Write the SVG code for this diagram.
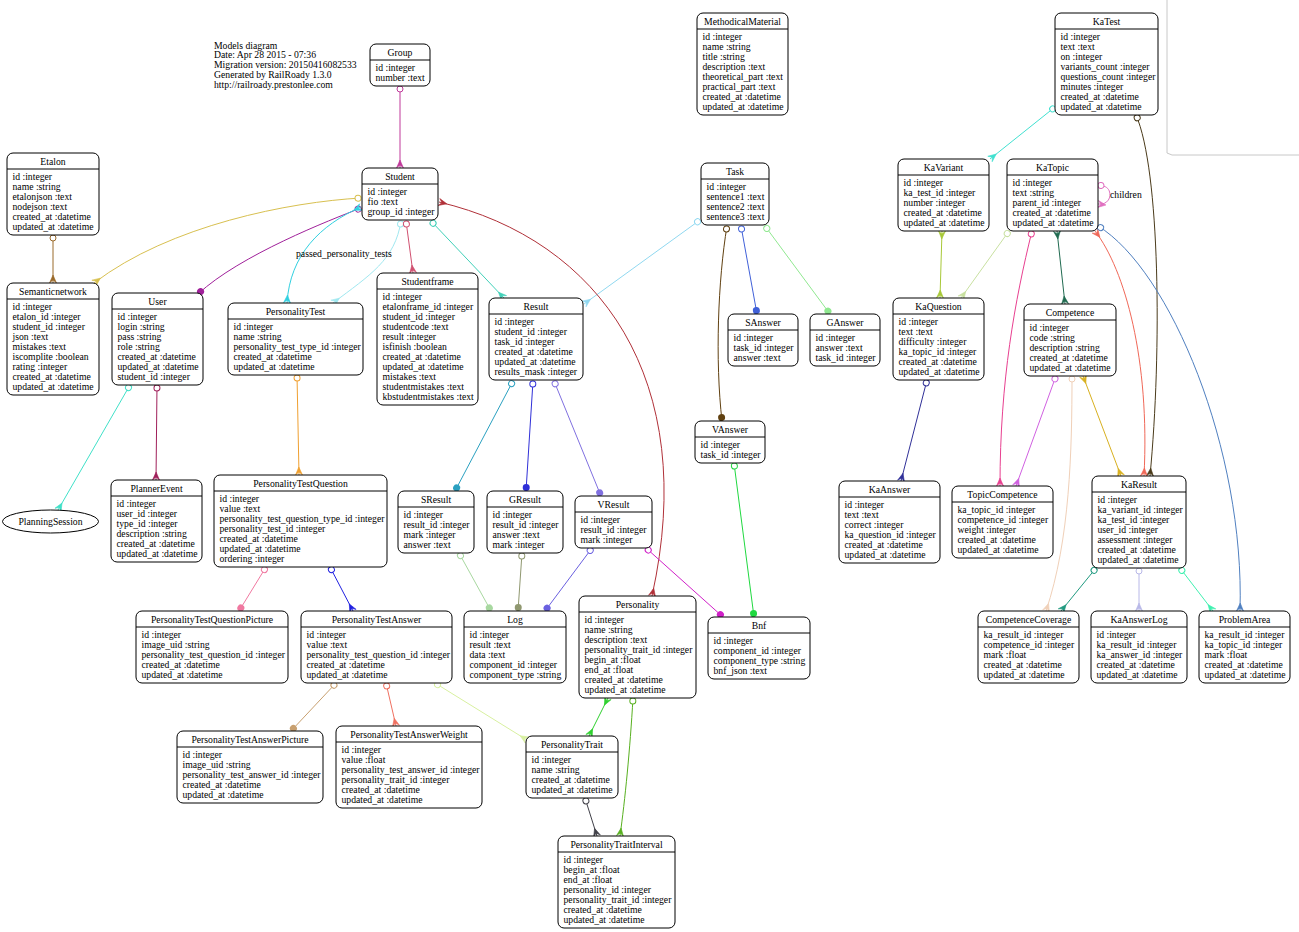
<svg xmlns="http://www.w3.org/2000/svg" width="1299" height="932" viewBox="0 0 1299 932">
<style>
text{font-family:"Liberation Serif","Times New Roman",serif;font-size:9.7px;fill:#000}
.t{text-anchor:middle}
.node rect{fill:#fff;stroke:#000;stroke-width:1}
.node line{stroke:#000;stroke-width:1}
.edges path{fill:none;stroke-width:1}
.o{marker-start:url(#odot)}
.c{marker-end:url(#crow)}
.cs{marker-start:url(#crow)}
.d{marker-end:url(#dot)}
</style>
<defs>
<marker id="odot" markerUnits="userSpaceOnUse" markerWidth="8" markerHeight="8" refX="0" refY="0" orient="auto" overflow="visible"><circle cx="3" cy="0" r="3" fill="#fff" stroke="context-stroke"/></marker>
<marker id="crow" markerUnits="userSpaceOnUse" markerWidth="10" markerHeight="10" refX="0" refY="0" orient="auto-start-reverse" overflow="visible"><polygon points="-8,0 0,-3.5 -3,0 0,3.5" fill="context-stroke" stroke="context-stroke" stroke-width="0.6"/></marker>
<marker id="dot" markerUnits="userSpaceOnUse" markerWidth="8" markerHeight="8" refX="0" refY="0" orient="auto" overflow="visible"><circle cx="-3.5" cy="0" r="3.5" fill="context-stroke"/></marker>
</defs>
<rect width="1299" height="932" fill="#fff"/>
<polyline points="1167,0 1167,153 1172,155 1299,155" fill="none" stroke="#c8c8c8"/>
<g id="header">
<text x="214" y="48.5">Models diagram</text>
<text x="214" y="58.3">Date: Apr 28 2015 - 07:36</text>
<text x="214" y="68">Migration version: 20150416082533</text>
<text x="214" y="77.8">Generated by RailRoady 1.3.0</text>
<text x="214" y="87.5">http://railroady.prestonlee.com</text>
</g>
<g class="edges" id="connectors">
<path class="o c" stroke="#c0399a" d="M400,86 L400,168"/>
<path class="o c" stroke="#d8c050" d="M361,198 C290,202 170,225 94,283"/>
<path class="o c" stroke="#9a6a2a" d="M53,235 L53,283"/>
<path class="o d" stroke="#a0209a" d="M361,208 C330,220 240,255 198,294"/>
<path class="cs c" stroke="#30d0e0" d="M361,207 C320,225 290,255 287,303"/>
<path class="o c" stroke="#a0e8f0" d="M401,221 C395,260 370,275 333,303"/>
<path class="o c" stroke="#d05070" d="M406,221 L413,273"/>
<path class="o c" stroke="#40d0b8" d="M431,221 L504,298"/>
<path class="o c" stroke="#90d8f0" d="M700,220 L584,304"/>
<path class="cs c" stroke="#b03038" d="M439,202 C600,240 700,380 652,596"/>
<path class="o d" stroke="#604010" d="M727,226 C718,280 715,360 722,421"/>
<path class="o d" stroke="#4060d8" d="M741,226 L757,314"/>
<path class="o d" stroke="#90e890" d="M765,226 L830,314"/>
<path class="o d" stroke="#2aa0c0" d="M513,381 L455,491"/>
<path class="o d" stroke="#3030d8" d="M533,381 L526,491"/>
<path class="o d" stroke="#8070e0" d="M554,381 L601,496"/>
<path class="o d" stroke="#a8d8a0" d="M459,553 L491,611"/>
<path class="o d" stroke="#909870" d="M522,553 L518,611"/>
<path class="o d" stroke="#6a60e0" d="M592,548 L545,611"/>
<path class="o d" stroke="#d020c8" d="M646,548 L723,617"/>
<path class="o d" stroke="#20d840" d="M734,463 L754,617"/>
<path class="o c" stroke="#40e0c8" d="M130,385 L58,510"/>
<path class="o c" stroke="#a0205a" d="M157,385 L156,480"/>
<path class="o c" stroke="#f0a030" d="M297,375 L299,475"/>
<path class="o d" stroke="#f078a0" d="M266,567 L239,611"/>
<path class="o c" stroke="#2020e0" d="M330,567 L353,611"/>
<path class="o d" stroke="#c8a070" d="M336,683 L291,731"/>
<path class="o c" stroke="#f07060" d="M386,683 L396,726"/>
<path class="o c" stroke="#d8f0a0" d="M435,683 L527,740"/>
<path class="cs c" stroke="#30d030" d="M608,698 L589,736"/>
<path class="o c" stroke="#58b020" d="M633,698 C630,750 625,800 620,836"/>
<path class="o c" stroke="#404048" d="M585,798 L597,836"/>
<path class="o c" stroke="#40e0d0" d="M1055,107 L990,159"/>
<path class="o c" stroke="#4a3a1a" d="M1136,115 C1160,170 1162,350 1150,476"/>
<path class="o c" stroke="#e070c0" d="M1098,186 C1114,183 1114,206 1098,204"/>
<path class="cs c" stroke="#a8c838" d="M942,231 L940,298"/>
<path class="o c" stroke="#c8e0a0" d="M1009,231 L961,298"/>
<path class="o c" stroke="#e84090" d="M1032,231 C1015,300 1000,380 1000,486"/>
<path class="cs c" stroke="#206a50" d="M1057,231 L1065,304"/>
<path class="cs c" stroke="#f06858" d="M1095,231 C1125,270 1150,360 1144,476"/>
<path class="o c" stroke="#5080c0" d="M1098,226 C1170,270 1245,450 1240,611"/>
<path class="o c" stroke="#303098" d="M927,380 L901,481"/>
<path class="o c" stroke="#d060e0" d="M1056,376 L1016,486"/>
<path class="o c" stroke="#f0d0b8" d="M1072,376 C1072,450 1070,540 1046,611"/>
<path class="cs c" stroke="#d8b020" d="M1083,376 L1121,476"/>
<path class="o c" stroke="#209a80" d="M1096,568 L1061,611"/>
<path class="o c" stroke="#b8b8e8" d="M1139,568 L1139,611"/>
<path class="o c" stroke="#40f0b0" d="M1180,568 L1213,611"/>
<text x="296" y="257">passed_personality_tests</text>
<text x="1110" y="198">children</text>
</g>
<g id="PlanningSession" class="node"><ellipse cx="50.5" cy="521.5" rx="48" ry="11.5" fill="#fff" stroke="#000"/><text class="t" x="50.5" y="525">PlanningSession</text></g>
<g id="Group" class="node"><rect x="370" y="44" width="60" height="42" rx="6"/><line x1="370" y1="60" x2="430" y2="60"/><text class="t" x="400" y="55.5">Group</text><text x="375.5" y="70.7">id :integer<tspan x="375.5" dy="10">number :text</tspan></text></g>
<g id="Student" class="node"><rect x="362" y="168" width="76" height="52" rx="6"/><line x1="362" y1="184" x2="438" y2="184"/><text class="t" x="400" y="179.5">Student</text><text x="367.5" y="194.7">id :integer<tspan x="367.5" dy="10">fio :text</tspan><tspan x="367.5" dy="10">group_id :integer</tspan></text></g>
<g id="Etalon" class="node"><rect x="7" y="153" width="92" height="82" rx="6"/><line x1="7" y1="169" x2="99" y2="169"/><text class="t" x="53" y="164.5">Etalon</text><text x="12.5" y="179.7">id :integer<tspan x="12.5" dy="10">name :string</tspan><tspan x="12.5" dy="10">etalonjson :text</tspan><tspan x="12.5" dy="10">nodejson :text</tspan><tspan x="12.5" dy="10">created_at :datetime</tspan><tspan x="12.5" dy="10">updated_at :datetime</tspan></text></g>
<g id="Semanticnetwork" class="node"><rect x="7" y="283" width="92" height="112" rx="6"/><line x1="7" y1="299" x2="99" y2="299"/><text class="t" x="53" y="294.5">Semanticnetwork</text><text x="12.5" y="309.7">id :integer<tspan x="12.5" dy="10">etalon_id :integer</tspan><tspan x="12.5" dy="10">student_id :integer</tspan><tspan x="12.5" dy="10">json :text</tspan><tspan x="12.5" dy="10">mistakes :text</tspan><tspan x="12.5" dy="10">iscomplite :boolean</tspan><tspan x="12.5" dy="10">rating :integer</tspan><tspan x="12.5" dy="10">created_at :datetime</tspan><tspan x="12.5" dy="10">updated_at :datetime</tspan></text></g>
<g id="User" class="node"><rect x="112" y="293" width="91" height="92" rx="6"/><line x1="112" y1="309" x2="203" y2="309"/><text class="t" x="157.5" y="304.5">User</text><text x="117.5" y="319.7">id :integer<tspan x="117.5" dy="10">login :string</tspan><tspan x="117.5" dy="10">pass :string</tspan><tspan x="117.5" dy="10">role :string</tspan><tspan x="117.5" dy="10">created_at :datetime</tspan><tspan x="117.5" dy="10">updated_at :datetime</tspan><tspan x="117.5" dy="10">student_id :integer</tspan></text></g>
<g id="PersonalityTest" class="node"><rect x="228" y="303" width="135" height="72" rx="6"/><line x1="228" y1="319" x2="363" y2="319"/><text class="t" x="295.5" y="314.5">PersonalityTest</text><text x="233.5" y="329.7">id :integer<tspan x="233.5" dy="10">name :string</tspan><tspan x="233.5" dy="10">personality_test_type_id :integer</tspan><tspan x="233.5" dy="10">created_at :datetime</tspan><tspan x="233.5" dy="10">updated_at :datetime</tspan></text></g>
<g id="Studentframe" class="node"><rect x="377" y="273" width="101" height="132" rx="6"/><line x1="377" y1="289" x2="478" y2="289"/><text class="t" x="427.5" y="284.5">Studentframe</text><text x="382.5" y="299.7">id :integer<tspan x="382.5" dy="10">etalonframe_id :integer</tspan><tspan x="382.5" dy="10">student_id :integer</tspan><tspan x="382.5" dy="10">studentcode :text</tspan><tspan x="382.5" dy="10">result :integer</tspan><tspan x="382.5" dy="10">isfinish :boolean</tspan><tspan x="382.5" dy="10">created_at :datetime</tspan><tspan x="382.5" dy="10">updated_at :datetime</tspan><tspan x="382.5" dy="10">mistakes :text</tspan><tspan x="382.5" dy="10">studentmistakes :text</tspan><tspan x="382.5" dy="10">kbstudentmistakes :text</tspan></text></g>
<g id="Result" class="node"><rect x="489" y="298" width="94" height="82" rx="6"/><line x1="489" y1="314" x2="583" y2="314"/><text class="t" x="536" y="309.5">Result</text><text x="494.5" y="324.7">id :integer<tspan x="494.5" dy="10">student_id :integer</tspan><tspan x="494.5" dy="10">task_id :integer</tspan><tspan x="494.5" dy="10">created_at :datetime</tspan><tspan x="494.5" dy="10">updated_at :datetime</tspan><tspan x="494.5" dy="10">results_mask :integer</tspan></text></g>
<g id="PlannerEvent" class="node"><rect x="111" y="480" width="91" height="82" rx="6"/><line x1="111" y1="496" x2="202" y2="496"/><text class="t" x="156.5" y="491.5">PlannerEvent</text><text x="116.5" y="506.7">id :integer<tspan x="116.5" dy="10">user_id :integer</tspan><tspan x="116.5" dy="10">type_id :integer</tspan><tspan x="116.5" dy="10">description :string</tspan><tspan x="116.5" dy="10">created_at :datetime</tspan><tspan x="116.5" dy="10">updated_at :datetime</tspan></text></g>
<g id="PersonalityTestQuestion" class="node"><rect x="214" y="475" width="173" height="92" rx="6"/><line x1="214" y1="491" x2="387" y2="491"/><text class="t" x="300.5" y="486.5">PersonalityTestQuestion</text><text x="219.5" y="501.7">id :integer<tspan x="219.5" dy="10">value :text</tspan><tspan x="219.5" dy="10">personality_test_question_type_id :integer</tspan><tspan x="219.5" dy="10">personality_test_id :integer</tspan><tspan x="219.5" dy="10">created_at :datetime</tspan><tspan x="219.5" dy="10">updated_at :datetime</tspan><tspan x="219.5" dy="10">ordering :integer</tspan></text></g>
<g id="SResult" class="node"><rect x="398" y="491" width="76" height="62" rx="6"/><line x1="398" y1="507" x2="474" y2="507"/><text class="t" x="436" y="502.5">SResult</text><text x="403.5" y="517.7">id :integer<tspan x="403.5" dy="10">result_id :integer</tspan><tspan x="403.5" dy="10">mark :integer</tspan><tspan x="403.5" dy="10">answer :text</tspan></text></g>
<g id="GResult" class="node"><rect x="487" y="491" width="76" height="62" rx="6"/><line x1="487" y1="507" x2="563" y2="507"/><text class="t" x="525" y="502.5">GResult</text><text x="492.5" y="517.7">id :integer<tspan x="492.5" dy="10">result_id :integer</tspan><tspan x="492.5" dy="10">answer :text</tspan><tspan x="492.5" dy="10">mark :integer</tspan></text></g>
<g id="VResult" class="node"><rect x="575" y="496" width="77" height="52" rx="6"/><line x1="575" y1="512" x2="652" y2="512"/><text class="t" x="613.5" y="507.5">VResult</text><text x="580.5" y="522.7">id :integer<tspan x="580.5" dy="10">result_id :integer</tspan><tspan x="580.5" dy="10">mark :integer</tspan></text></g>
<g id="Log" class="node"><rect x="464" y="611" width="102" height="72" rx="6"/><line x1="464" y1="627" x2="566" y2="627"/><text class="t" x="515" y="622.5">Log</text><text x="469.5" y="637.7">id :integer<tspan x="469.5" dy="10">result :text</tspan><tspan x="469.5" dy="10">data :text</tspan><tspan x="469.5" dy="10">component_id :integer</tspan><tspan x="469.5" dy="10">component_type :string</tspan></text></g>
<g id="Personality" class="node"><rect x="579" y="596" width="117" height="102" rx="6"/><line x1="579" y1="612" x2="696" y2="612"/><text class="t" x="637.5" y="607.5">Personality</text><text x="584.5" y="622.7">id :integer<tspan x="584.5" dy="10">name :string</tspan><tspan x="584.5" dy="10">description :text</tspan><tspan x="584.5" dy="10">personality_trait_id :integer</tspan><tspan x="584.5" dy="10">begin_at :float</tspan><tspan x="584.5" dy="10">end_at :float</tspan><tspan x="584.5" dy="10">created_at :datetime</tspan><tspan x="584.5" dy="10">updated_at :datetime</tspan></text></g>
<g id="PersonalityTestQuestionPicture" class="node"><rect x="136" y="611" width="152" height="72" rx="6"/><line x1="136" y1="627" x2="288" y2="627"/><text class="t" x="212" y="622.5">PersonalityTestQuestionPicture</text><text x="141.5" y="637.7">id :integer<tspan x="141.5" dy="10">image_uid :string</tspan><tspan x="141.5" dy="10">personality_test_question_id :integer</tspan><tspan x="141.5" dy="10">created_at :datetime</tspan><tspan x="141.5" dy="10">updated_at :datetime</tspan></text></g>
<g id="PersonalityTestAnswer" class="node"><rect x="301" y="611" width="151" height="72" rx="6"/><line x1="301" y1="627" x2="452" y2="627"/><text class="t" x="376.5" y="622.5">PersonalityTestAnswer</text><text x="306.5" y="637.7">id :integer<tspan x="306.5" dy="10">value :text</tspan><tspan x="306.5" dy="10">personality_test_question_id :integer</tspan><tspan x="306.5" dy="10">created_at :datetime</tspan><tspan x="306.5" dy="10">updated_at :datetime</tspan></text></g>
<g id="Bnf" class="node"><rect x="708" y="617" width="102" height="62" rx="6"/><line x1="708" y1="633" x2="810" y2="633"/><text class="t" x="759" y="628.5">Bnf</text><text x="713.5" y="643.7">id :integer<tspan x="713.5" dy="10">component_id :integer</tspan><tspan x="713.5" dy="10">component_type :string</tspan><tspan x="713.5" dy="10">bnf_json :text</tspan></text></g>
<g id="SAnswer" class="node"><rect x="728" y="314" width="70" height="52" rx="6"/><line x1="728" y1="330" x2="798" y2="330"/><text class="t" x="763" y="325.5">SAnswer</text><text x="733.5" y="340.7">id :integer<tspan x="733.5" dy="10">task_id :integer</tspan><tspan x="733.5" dy="10">answer :text</tspan></text></g>
<g id="GAnswer" class="node"><rect x="810" y="314" width="70" height="52" rx="6"/><line x1="810" y1="330" x2="880" y2="330"/><text class="t" x="845" y="325.5">GAnswer</text><text x="815.5" y="340.7">id :integer<tspan x="815.5" dy="10">answer :text</tspan><tspan x="815.5" dy="10">task_id :integer</tspan></text></g>
<g id="VAnswer" class="node"><rect x="695" y="421" width="70" height="42" rx="6"/><line x1="695" y1="437" x2="765" y2="437"/><text class="t" x="730" y="432.5">VAnswer</text><text x="700.5" y="447.7">id :integer<tspan x="700.5" dy="10">task_id :integer</tspan></text></g>
<g id="KaAnswer" class="node"><rect x="839" y="481" width="101" height="82" rx="6"/><line x1="839" y1="497" x2="940" y2="497"/><text class="t" x="889.5" y="492.5">KaAnswer</text><text x="844.5" y="507.7">id :integer<tspan x="844.5" dy="10">text :text</tspan><tspan x="844.5" dy="10">correct :integer</tspan><tspan x="844.5" dy="10">ka_question_id :integer</tspan><tspan x="844.5" dy="10">created_at :datetime</tspan><tspan x="844.5" dy="10">updated_at :datetime</tspan></text></g>
<g id="KaQuestion" class="node"><rect x="893" y="298" width="91" height="82" rx="6"/><line x1="893" y1="314" x2="984" y2="314"/><text class="t" x="938.5" y="309.5">KaQuestion</text><text x="898.5" y="324.7">id :integer<tspan x="898.5" dy="10">text :text</tspan><tspan x="898.5" dy="10">difficulty :integer</tspan><tspan x="898.5" dy="10">ka_topic_id :integer</tspan><tspan x="898.5" dy="10">created_at :datetime</tspan><tspan x="898.5" dy="10">updated_at :datetime</tspan></text></g>
<g id="Competence" class="node"><rect x="1024" y="304" width="92" height="72" rx="6"/><line x1="1024" y1="320" x2="1116" y2="320"/><text class="t" x="1070" y="315.5">Competence</text><text x="1029.5" y="330.7">id :integer<tspan x="1029.5" dy="10">code :string</tspan><tspan x="1029.5" dy="10">description :string</tspan><tspan x="1029.5" dy="10">created_at :datetime</tspan><tspan x="1029.5" dy="10">updated_at :datetime</tspan></text></g>
<g id="TopicCompetence" class="node"><rect x="952" y="486" width="101" height="72" rx="6"/><line x1="952" y1="502" x2="1053" y2="502"/><text class="t" x="1002.5" y="497.5">TopicCompetence</text><text x="957.5" y="512.7">ka_topic_id :integer<tspan x="957.5" dy="10">competence_id :integer</tspan><tspan x="957.5" dy="10">weight :integer</tspan><tspan x="957.5" dy="10">created_at :datetime</tspan><tspan x="957.5" dy="10">updated_at :datetime</tspan></text></g>
<g id="KaResult" class="node"><rect x="1092" y="476" width="94" height="92" rx="6"/><line x1="1092" y1="492" x2="1186" y2="492"/><text class="t" x="1139" y="487.5">KaResult</text><text x="1097.5" y="502.7">id :integer<tspan x="1097.5" dy="10">ka_variant_id :integer</tspan><tspan x="1097.5" dy="10">ka_test_id :integer</tspan><tspan x="1097.5" dy="10">user_id :integer</tspan><tspan x="1097.5" dy="10">assessment :integer</tspan><tspan x="1097.5" dy="10">created_at :datetime</tspan><tspan x="1097.5" dy="10">updated_at :datetime</tspan></text></g>
<g id="CompetenceCoverage" class="node"><rect x="978" y="611" width="101" height="72" rx="6"/><line x1="978" y1="627" x2="1079" y2="627"/><text class="t" x="1028.5" y="622.5">CompetenceCoverage</text><text x="983.5" y="637.7">ka_result_id :integer<tspan x="983.5" dy="10">competence_id :integer</tspan><tspan x="983.5" dy="10">mark :float</tspan><tspan x="983.5" dy="10">created_at :datetime</tspan><tspan x="983.5" dy="10">updated_at :datetime</tspan></text></g>
<g id="KaAnswerLog" class="node"><rect x="1091" y="611" width="96" height="72" rx="6"/><line x1="1091" y1="627" x2="1187" y2="627"/><text class="t" x="1139" y="622.5">KaAnswerLog</text><text x="1096.5" y="637.7">id :integer<tspan x="1096.5" dy="10">ka_result_id :integer</tspan><tspan x="1096.5" dy="10">ka_answer_id :integer</tspan><tspan x="1096.5" dy="10">created_at :datetime</tspan><tspan x="1096.5" dy="10">updated_at :datetime</tspan></text></g>
<g id="ProblemArea" class="node"><rect x="1199" y="611" width="91" height="72" rx="6"/><line x1="1199" y1="627" x2="1290" y2="627"/><text class="t" x="1244.5" y="622.5">ProblemArea</text><text x="1204.5" y="637.7">ka_result_id :integer<tspan x="1204.5" dy="10">ka_topic_id :integer</tspan><tspan x="1204.5" dy="10">mark :float</tspan><tspan x="1204.5" dy="10">created_at :datetime</tspan><tspan x="1204.5" dy="10">updated_at :datetime</tspan></text></g>
<g id="MethodicalMaterial" class="node"><rect x="697" y="13" width="91" height="102" rx="6"/><line x1="697" y1="29" x2="788" y2="29"/><text class="t" x="742.5" y="24.5">MethodicalMaterial</text><text x="702.5" y="39.7">id :integer<tspan x="702.5" dy="10">name :string</tspan><tspan x="702.5" dy="10">title :string</tspan><tspan x="702.5" dy="10">description :text</tspan><tspan x="702.5" dy="10">theoretical_part :text</tspan><tspan x="702.5" dy="10">practical_part :text</tspan><tspan x="702.5" dy="10">created_at :datetime</tspan><tspan x="702.5" dy="10">updated_at :datetime</tspan></text></g>
<g id="Task" class="node"><rect x="701" y="163" width="68" height="62" rx="6"/><line x1="701" y1="179" x2="769" y2="179"/><text class="t" x="735" y="174.5">Task</text><text x="706.5" y="189.7">id :integer<tspan x="706.5" dy="10">sentence1 :text</tspan><tspan x="706.5" dy="10">sentence2 :text</tspan><tspan x="706.5" dy="10">sentence3 :text</tspan></text></g>
<g id="KaVariant" class="node"><rect x="898" y="159" width="91" height="72" rx="6"/><line x1="898" y1="175" x2="989" y2="175"/><text class="t" x="943.5" y="170.5">KaVariant</text><text x="903.5" y="185.7">id :integer<tspan x="903.5" dy="10">ka_test_id :integer</tspan><tspan x="903.5" dy="10">number :integer</tspan><tspan x="903.5" dy="10">created_at :datetime</tspan><tspan x="903.5" dy="10">updated_at :datetime</tspan></text></g>
<g id="KaTest" class="node"><rect x="1055" y="13" width="103" height="102" rx="6"/><line x1="1055" y1="29" x2="1158" y2="29"/><text class="t" x="1106.5" y="24.5">KaTest</text><text x="1060.5" y="39.7">id :integer<tspan x="1060.5" dy="10">text :text</tspan><tspan x="1060.5" dy="10">on :integer</tspan><tspan x="1060.5" dy="10">variants_count :integer</tspan><tspan x="1060.5" dy="10">questions_count :integer</tspan><tspan x="1060.5" dy="10">minutes :integer</tspan><tspan x="1060.5" dy="10">created_at :datetime</tspan><tspan x="1060.5" dy="10">updated_at :datetime</tspan></text></g>
<g id="KaTopic" class="node"><rect x="1007" y="159" width="91" height="72" rx="6"/><line x1="1007" y1="175" x2="1098" y2="175"/><text class="t" x="1052.5" y="170.5">KaTopic</text><text x="1012.5" y="185.7">id :integer<tspan x="1012.5" dy="10">text :string</tspan><tspan x="1012.5" dy="10">parent_id :integer</tspan><tspan x="1012.5" dy="10">created_at :datetime</tspan><tspan x="1012.5" dy="10">updated_at :datetime</tspan></text></g>
<g id="PersonalityTestAnswerPicture" class="node"><rect x="177" y="731" width="146" height="72" rx="6"/><line x1="177" y1="747" x2="323" y2="747"/><text class="t" x="250" y="742.5">PersonalityTestAnswerPicture</text><text x="182.5" y="757.7">id :integer<tspan x="182.5" dy="10">image_uid :string</tspan><tspan x="182.5" dy="10">personality_test_answer_id :integer</tspan><tspan x="182.5" dy="10">created_at :datetime</tspan><tspan x="182.5" dy="10">updated_at :datetime</tspan></text></g>
<g id="PersonalityTestAnswerWeight" class="node"><rect x="336" y="726" width="146" height="82" rx="6"/><line x1="336" y1="742" x2="482" y2="742"/><text class="t" x="409" y="737.5">PersonalityTestAnswerWeight</text><text x="341.5" y="752.7">id :integer<tspan x="341.5" dy="10">value :float</tspan><tspan x="341.5" dy="10">personality_test_answer_id :integer</tspan><tspan x="341.5" dy="10">personality_trait_id :integer</tspan><tspan x="341.5" dy="10">created_at :datetime</tspan><tspan x="341.5" dy="10">updated_at :datetime</tspan></text></g>
<g id="PersonalityTrait" class="node"><rect x="526" y="736" width="92" height="62" rx="6"/><line x1="526" y1="752" x2="618" y2="752"/><text class="t" x="572" y="747.5">PersonalityTrait</text><text x="531.5" y="762.7">id :integer<tspan x="531.5" dy="10">name :string</tspan><tspan x="531.5" dy="10">created_at :datetime</tspan><tspan x="531.5" dy="10">updated_at :datetime</tspan></text></g>
<g id="PersonalityTraitInterval" class="node"><rect x="558" y="836" width="117" height="92" rx="6"/><line x1="558" y1="852" x2="675" y2="852"/><text class="t" x="616.5" y="847.5">PersonalityTraitInterval</text><text x="563.5" y="862.7">id :integer<tspan x="563.5" dy="10">begin_at :float</tspan><tspan x="563.5" dy="10">end_at :float</tspan><tspan x="563.5" dy="10">personality_id :integer</tspan><tspan x="563.5" dy="10">personality_trait_id :integer</tspan><tspan x="563.5" dy="10">created_at :datetime</tspan><tspan x="563.5" dy="10">updated_at :datetime</tspan></text></g>
</svg>
